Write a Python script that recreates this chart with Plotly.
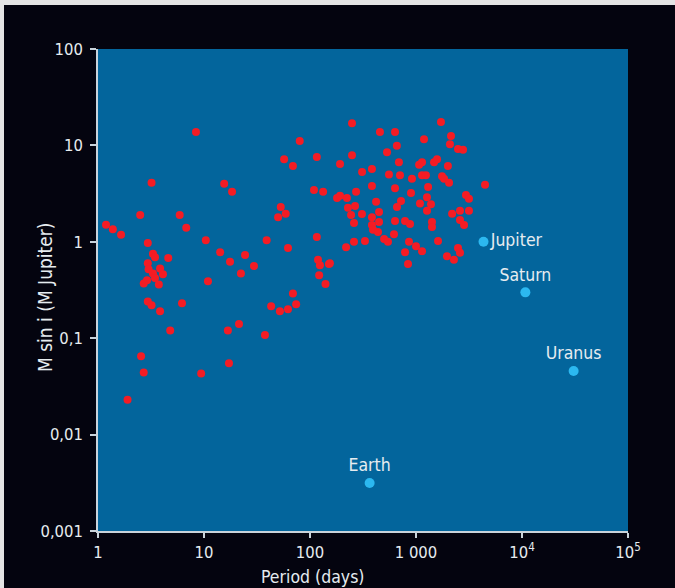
import plotly.graph_objects as go

# Exoplanets: orbital period (days) and M sin i (Jupiter masses)
exo_period = [8.4, 57, 3.2, 15.5, 18.4, 53, 50, 59, 2.5, 5.9, 6.8, 1.19, 1.38, 1.65, 2.95, 10.4, 39, 62,
              3.3, 3.45, 4.6, 14.2, 24.4, 17.6, 29.6, 22.3, 10.9, 2.95, 3.0, 3.85, 4.1, 3.3, 3.45, 2.9,
              2.7, 3.75, 2.95, 3.2, 3.85, 6.2, 4.8, 140, 16.8, 21.4, 37.6, 43, 52, 62, 69, 74, 2.55,
              2.7, 1.9, 9.4, 17.2,
              249, 1720, 457, 634, 80, 2140, 1190, 2090, 2490, 2780, 660, 533, 116, 249, 69, 192, 690,
              1070, 1140, 1480, 1580, 2000, 310, 384, 556, 706, 1140, 1240, 1760, 1840, 2050, 916,
              384, 634, 1300, 4480, 109, 133, 180, 192, 223, 272, 897, 2960, 3160, 420, 722, 1090,
              1270, 1385, 662, 228, 266, 448, 244, 309, 384, 1270, 2190, 2600, 3160, 634, 788, 878,
              260, 448, 384, 2600, 2840, 1415, 1415, 393, 438, 620, 500, 544, 330, 260, 859, 1000,
              1140, 1614, 788, 841, 116, 119, 124, 151, 122, 2490, 2600, 1960, 2280, 219, 154]
exo_mass = [13.8, 7.2, 4.1, 4.0, 3.3, 2.3, 1.8, 1.95, 1.9, 1.9, 1.4, 1.5, 1.35, 1.18, 0.97, 1.04, 1.04,
            0.86, 0.75, 0.69, 0.68, 0.78, 0.73, 0.62, 0.56, 0.47, 0.39, 0.60, 0.52, 0.53, 0.46, 0.47,
            0.42, 0.40, 0.37, 0.36, 0.24, 0.22, 0.19, 0.23, 0.12, 0.365, 0.12, 0.14, 0.108, 0.215,
            0.19, 0.20, 0.29, 0.225, 0.065, 0.044, 0.023, 0.043, 0.055,
            17, 17.5, 13.8, 13.8, 11.1, 12.5, 11.6, 10.3, 9.2, 9.0, 9.9, 8.5, 7.6, 7.9, 6.1, 6.4, 6.7,
            6.3, 6.7, 6.7, 7.2, 6.1, 5.3, 5.7, 5.0, 4.9, 4.9, 4.9, 4.8, 4.5, 4.1, 4.5,
            3.8, 3.6, 3.7, 3.9, 3.45, 3.3, 2.85, 3.0, 2.85, 3.3, 3.2, 3.06, 2.8, 2.6, 2.65, 2.5,
            2.9, 2.45, 2.3, 2.25, 2.35, 2.04, 1.9, 1.94, 1.8, 2.1, 1.95, 2.1, 2.1, 1.64, 1.64, 1.53,
            1.57, 1.6, 1.49, 1.68, 1.49, 1.6, 1.42, 1.33, 1.26, 1.2, 1.07, 1.0, 1.02, 1.0, 1.0, 0.9,
            0.8, 1.02, 0.78, 0.59, 1.12, 0.65, 0.57, 0.59, 0.45, 0.86, 0.77, 0.71, 0.65, 0.88, 0.60]

# Solar system planets
ss_names = ["Jupiter", "Saturn", "Uranus", "Earth"]
ss_period = [4333, 10759, 30687, 365.25]
ss_mass = [1.0, 0.299, 0.0457, 0.00315]
ss_textpos = ["middle right", "top center", "top center", "top center"]

x_tickvals = [1, 10, 100, 1000, 1e4, 1e5]
x_ticktext = ["1", "10", "100", "1 000", "10<sup>4</sup>", "10<sup>5</sup>"]
y_tickvals = [0.001, 0.01, 0.1, 1, 10, 100]
y_ticktext = ["0,001", "0,01", "0,1", "1", "10", "100"]

FONT = "DejaVu Sans Condensed, Liberation Sans Narrow, Roboto, sans-serif"
TXT = "#e6ecf0"
AX = "#c9d3da"

fig = go.Figure()
fig.add_trace(go.Scatter(x=exo_period, y=exo_mass, mode="markers",
                         marker=dict(color="#f41c24", size=8, line=dict(width=0)),
                         showlegend=False, hoverinfo="x+y"))
fig.add_trace(go.Scatter(x=ss_period, y=ss_mass, mode="markers+text", text=ss_names,
                         textposition=ss_textpos,
                         textfont=dict(family=FONT, size=17.5, color=TXT),
                         marker=dict(color="#2cb8f0", size=10, line=dict(width=0)),
                         showlegend=False, hoverinfo="text"))

W, H = 675, 588
L, R, T, B = 98, 47, 49, 57
pw, ph = W - L - R, H - T - B

fig.update_layout(
    width=W, height=H,
    margin=dict(l=L, r=R, t=T, b=B),
    paper_bgcolor="#04040f",
    plot_bgcolor="#03659c",
    font=dict(family=FONT, size=16, color=TXT),
    xaxis=dict(type="log", range=[0, 5], tickvals=x_tickvals, ticktext=x_ticktext,
               showgrid=False, zeroline=False, showline=True, linecolor=AX, linewidth=1.5,
               ticks="outside", ticklen=5, tickcolor=AX, tickwidth=1.5,
               tickfont=dict(family=FONT, size=16.5, color=TXT)),
    yaxis=dict(type="log", range=[-3, 2], tickvals=y_tickvals, ticktext=y_ticktext,
               showgrid=False, zeroline=False, showline=True, linecolor=AX, linewidth=1.5,
               ticks="outside", ticklen=6, tickcolor=AX, tickwidth=1.5, ticklabelstandoff=4,
               tickfont=dict(family=FONT, size=16.5, color=TXT)),
    annotations=[
        dict(text="Period (days)", xref="paper", yref="paper",
             x=(312 - L) / pw, y=(H - B - 577) / ph, xanchor="center", yanchor="middle",
             showarrow=False, font=dict(family=FONT, size=17.5, color=TXT)),
        dict(text="M sin i (M Jupiter)", xref="paper", yref="paper", textangle=-90,
             x=(45 - L) / pw, y=(H - B - 297) / ph, xanchor="center", yanchor="middle",
             showarrow=False, font=dict(family=FONT, size=19, color=TXT)),
    ],
    shapes=[
        dict(type="rect", xref="paper", yref="paper", line=dict(width=0), fillcolor="#e4e4e4",
             x0=-L / pw, x1=(4 - L) / pw, y0=-B / ph, y1=(H - B) / ph),
        dict(type="rect", xref="paper", yref="paper", line=dict(width=0), fillcolor="#e4e4e4",
             x0=-L / pw, x1=(W - L) / pw, y0=(H - B - 5) / ph, y1=(H - B) / ph),
    ],
)

fig.write_html("out.html")
